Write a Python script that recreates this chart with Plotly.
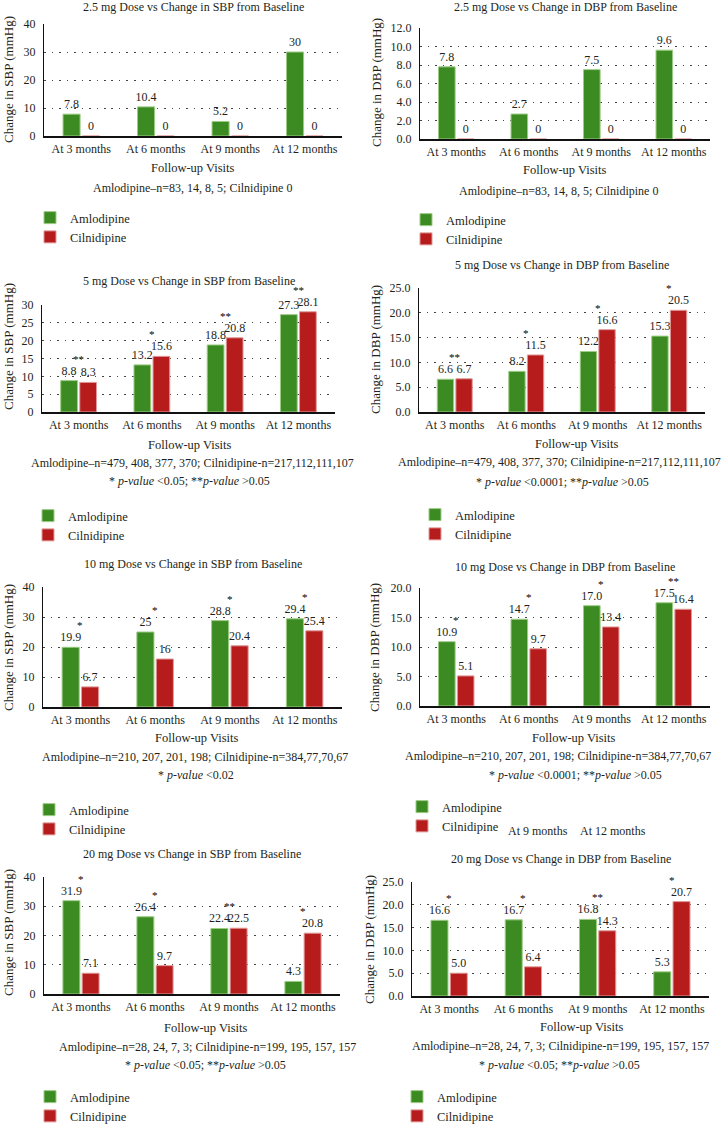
import plotly.graph_objects as go

# ---- data ----
categories = ["At 3 months", "At 6 months", "At 9 months", "At 12 months"]

sbp_25_aml = [7.8, 10.4, 5.2, 30]
sbp_25_cil = [0, 0, 0, 0]
dbp_25_aml = [7.8, 2.7, 7.5, 9.6]
dbp_25_cil = [0, 0, 0, 0]

sbp_5_aml = [8.8, 13.2, 18.8, 27.3]
sbp_5_cil = [8.3, 15.6, 20.8, 28.1]
sbp_5_sig = ["**", "*", "**", "**"]
dbp_5_aml = [6.6, 8.2, 12.2, 15.3]
dbp_5_cil = [6.7, 11.5, 16.6, 20.5]
dbp_5_sig = ["**", "*", "*", "*"]

sbp_10_aml = [19.9, 25, 28.8, 29.4]
sbp_10_cil = [6.7, 16, 20.4, 25.4]
sbp_10_sig = ["*", "*", "*", "*"]
dbp_10_aml = [10.9, 14.7, 17.0, 17.5]
dbp_10_cil = [5.1, 9.7, 13.4, 16.4]
dbp_10_sig = ["*", "*", "*", "**"]

sbp_20_aml = [31.9, 26.4, 22.4, 4.3]
sbp_20_cil = [7.1, 9.7, 22.5, 20.8]
sbp_20_sig = ["*", "*", "**", "*"]
dbp_20_aml = [16.6, 16.7, 16.8, 5.3]
dbp_20_cil = [5.0, 6.4, 14.3, 20.7]
dbp_20_sig = ["*", "*", "**", "*"]

n_25 = "Amlodipine–n=83, 14, 8, 5; Cilnidipine 0"
n_5 = "Amlodipine–n=479, 408, 377, 370; Cilnidipine-n=217,112,111,107"
n_10 = "Amlodipine–n=210, 207, 201, 198; Cilnidipine-n=384,77,70,67"
n_20 = "Amlodipine–n=28, 24, 7, 3; Cilnidipine-n=199, 195, 157, 157"
p_005 = "* <i>p-value</i> <0.05; **<i>p-value</i> >0.05"
p_00001 = "* <i>p-value</i> <0.0001; **<i>p-value</i> >0.05"
p_002 = "* <i>p-value</i> <0.02"

W, H = 723, 1125
FONT = "Liberation Serif"
INK = "#231f20"
GREEN = "#3b8a22"
RED = "#b71c1c"

# panel layout, in pixels of the 723x1125 page
panels = [
    dict(title="2.5 mg Dose vs Change in SBP from Baseline", ytitle="Change in SBP (mmHg)",
         aml=sbp_25_aml, cil=sbp_25_cil, sig=None, yr=40, dt=10, tf="d", lf="g",
         dx=(44, 342), dy=(24, 136), ty=7, yt=(8, 80), xt=(193, 168),
         notes=[(n_25, 192, 188)], leg=(44, 219)),
    dict(title="2.5 mg Dose vs Change in DBP from Baseline", ytitle="Change in DBP (mmHg)",
         aml=dbp_25_aml, cil=dbp_25_cil, sig=None, yr=12, dt=2, tf=".1f", lf="g",
         dx=(420, 710), dy=(28, 139), ty=7, yt=(377, 83), xt=(565, 170),
         notes=[(n_25, 558, 191)], leg=(420, 221)),
    dict(title="5 mg Dose vs Change in SBP from Baseline", ytitle="Change in SBP (mmHg)",
         aml=sbp_5_aml, cil=sbp_5_cil, sig=sbp_5_sig, yr=30, dt=5, tf="d", lf="g",
         dx=(42, 335), dy=(305, 412), ty=281, yt=(8, 347), xt=(190, 445),
         notes=[(n_5, 192, 463), (p_005, 189, 481)], leg=(42, 517)),
    dict(title="5 mg Dose vs Change in DBP from Baseline", ytitle="Change in DBP (mmHg)",
         aml=dbp_5_aml, cil=dbp_5_cil, sig=dbp_5_sig, yr=25, dt=5, tf=".1f", lf=".1f",
         dx=(419, 705), dy=(288, 412), ty=265, yt=(375, 350), xt=(577, 444),
         notes=[(n_5, 559, 462), (p_00001, 562, 482)], leg=(429, 516)),
    dict(title="10 mg Dose vs Change in SBP from Baseline", ytitle="Change in SBP (mmHg)",
         aml=sbp_10_aml, cil=sbp_10_cil, sig=sbp_10_sig, yr=40, dt=10, tf="d", lf="g",
         dx=(43, 342), dy=(587, 707), ty=564, yt=(8, 648), xt=(197, 738),
         notes=[(n_10, 195, 757), (p_002, 196, 775)], leg=(43, 811)),
    dict(title="10 mg Dose vs Change in DBP from Baseline", ytitle="Change in DBP (mmHg)",
         aml=dbp_10_aml, cil=dbp_10_cil, sig=dbp_10_sig, yr=20, dt=5, tf=".1f", lf=".1f",
         dx=(420, 710), dy=(588, 706), ty=567, yt=(374, 648), xt=(574, 738),
         notes=[(n_10, 558, 756), (p_00001, 575, 775)], leg=(416, 808)),
    dict(title="20 mg Dose vs Change in SBP from Baseline", ytitle="Change in SBP (mmHg)",
         aml=sbp_20_aml, cil=sbp_20_cil, sig=sbp_20_sig, yr=40, dt=10, tf="d", lf="g",
         dx=(44, 340), dy=(877, 994), ty=854, yt=(8, 933), xt=(206, 1028),
         notes=[(n_20, 207, 1047), (p_005, 205, 1065)], leg=(44, 1098)),
    dict(title="20 mg Dose vs Change in DBP from Baseline", ytitle="Change in DBP (mmHg)",
         aml=dbp_20_aml, cil=dbp_20_cil, sig=dbp_20_sig, yr=25, dt=5, tf=".1f", lf=".1f",
         dx=(412, 709), dy=(882, 996), ty=859, yt=(369, 940), xt=(582, 1027),
         notes=[(n_20, 560, 1046), (p_005, 559, 1065)], leg=(411, 1098)),
]


def px(x):
    return x / W


def py(y):
    return 1 - y / H


def txt(text, x, y, size=12, **kw):
    return dict(text=text, x=px(x), y=py(y), xref="paper", yref="paper",
                showarrow=False, xanchor="center", yanchor="middle",
                font=dict(family=FONT, size=size, color=INK), **kw)


fig = go.Figure()
annotations = []
layout = {}

for i, p in enumerate(panels, start=1):
    sfx = "" if i == 1 else str(i)
    leg = "legend" + sfx
    for name, vals, col, edge in [("Amlodipine", p["aml"], GREEN, "#9ccc84"),
                                  ("Cilnidipine", p["cil"], RED, "#e09a9a")]:
        fig.add_trace(go.Bar(
            x=categories, y=vals, name=name, xaxis="x" + sfx, yaxis="y" + sfx,
            legend=leg, marker=dict(color=col, line=dict(color=edge, width=1)),
            text=[format(v, p["lf"]) for v in vals], textposition="outside",
            constraintext="none", cliponaxis=False,
            textfont=dict(family=FONT, size=12, color=INK), hoverinfo="skip",
        ))

    layout["xaxis" + sfx] = dict(
        domain=[px(p["dx"][0]), px(p["dx"][1])], anchor="y" + sfx,
        showline=True, linecolor="#111", linewidth=1.5, showgrid=False,
        ticks="outside", ticklen=1, tickcolor="rgba(0,0,0,0)",
        tickfont=dict(family=FONT, size=12, color=INK), fixedrange=True,
    )
    layout["yaxis" + sfx] = dict(
        domain=[py(p["dy"][1]), py(p["dy"][0])], anchor="x" + sfx,
        range=[0, p["yr"]], dtick=p["dt"], tickformat=p["tf"],
        showline=True, linecolor="#111", linewidth=1.2, zeroline=False,
        showgrid=True, gridcolor="#444", gridwidth=1.3, griddash="1.5px,6px",
        ticks="outside", ticklen=5, tickcolor="rgba(0,0,0,0)",
        tickfont=dict(family=FONT, size=12, color=INK), fixedrange=True,
    )
    layout[leg] = dict(
        x=px(p["leg"][0] - 14), y=py(p["leg"][1] - 16), xanchor="left", yanchor="top",
        bgcolor="rgba(0,0,0,0)", font=dict(family=FONT, size=12.5, color=INK),
        itemwidth=30, traceorder="normal",
    )

    cx = (p["dx"][0] + p["dx"][1]) / 2
    annotations.append(txt(p["title"], cx, p["ty"]))
    annotations.append(txt(p["ytitle"], p["yt"][0], p["yt"][1], size=13, textangle=-90))
    annotations.append(txt("Follow-up Visits", p["xt"][0], p["xt"][1], size=12.5))
    for text, nx, ny in p["notes"]:
        annotations.append(txt(text, nx, ny))

    if p["sig"]:
        for cat, a, c, s in zip(categories, p["aml"], p["cil"], p["sig"]):
            annotations.append(dict(
                text=s, x=cat, y=max(a, c), xref="x" + sfx, yref="y" + sfx,
                yshift=22, showarrow=False, yanchor="middle",
                font=dict(family=FONT, size=11, color="#000"),
            ))

# stray tick labels present in the source figure
annotations.append(txt("At 9 months", 538, 831))
annotations.append(txt("At 12 months", 613, 831))

fig.update_layout(
    width=W, height=H, margin=dict(l=0, r=0, t=0, b=0, autoexpand=False),
    paper_bgcolor="white", plot_bgcolor="white",
    barmode="group", bargap=0.48, bargroupgap=0.12,
    showlegend=True, annotations=annotations,
    font=dict(family=FONT, size=12, color=INK),
    **layout,
)

# the page's default body margin would push the 723x1125 figure off the window
fig.write_html("out.html", config={"displayModeBar": False},
               post_script="document.body.style.margin = '0';")
